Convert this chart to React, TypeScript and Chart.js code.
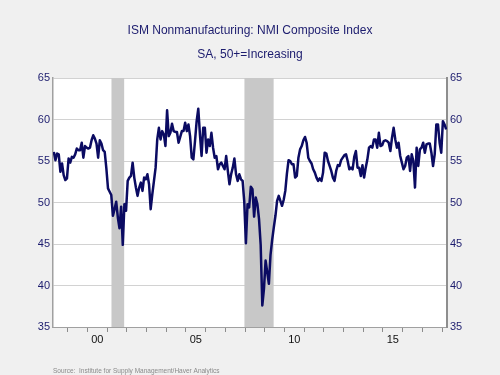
import React, { useEffect, useRef } from 'react';
import { Chart, registerables } from 'chart.js';

Chart.register(...registerables);

const TITLE = 'ISM Nonmanufacturing: NMI Composite Index';
const SUBTITLE = 'SA, 50+=Increasing';
const SOURCE = 'Source:  Institute for Supply Management/Haver Analytics';

// Monthly series, April 1998 .. March 2018
const START_YEAR = 1998;
const START_MONTH = 4;
const nmi: number[] = [
  // 1998 Apr-Dec
  56.1, 55.1, 55.9, 55.8, 53.7, 54.7, 53.3, 52.7, 52.9,
  // 1999
  55.3, 54.8, 55.5, 55.4, 55.8, 56.5, 56.3, 56.3, 57.2, 55.4, 56.8, 56.6,
  // 2000
  56.5, 56.6, 57.5, 58.1, 57.7, 57.1, 55.4, 57.5, 57.1, 56.3, 56.1, 54.1,
  // 2001
  51.7, 51.3, 50.9, 48.4, 49.2, 50.1, 48.2, 46.9, 49.5, 44.9, 49.8, 49.0,
  // 2002
  52.6, 53.0, 53.2, 54.8, 53.0, 51.8, 50.8, 51.8, 52.4, 51.4, 53.0, 52.8,
  // 2003
  53.4, 52.2, 49.2, 51.0, 52.6, 54.2, 57.6, 59.0, 57.6, 58.6, 58.2, 56.8,
  // 2004
  61.1, 58.0, 58.4, 59.5, 58.6, 58.5, 58.5, 57.2, 57.9, 58.6, 58.6, 59.6,
  // 2005
  58.6, 59.4, 58.0, 55.4, 55.2, 57.4, 59.8, 61.3, 58.2, 55.6, 59.0, 59.0,
  // 2006
  56.0, 57.6, 56.8, 58.4, 56.6, 55.4, 55.6, 54.0, 54.6, 54.8, 54.4, 54.0,
  // 2007
  55.6, 53.8, 52.2, 53.4, 54.2, 55.3, 53.4, 52.6, 53.4, 52.8, 52.6, 50.1,
  // 2008
  45.1, 49.8, 49.4, 51.9, 51.6, 48.3, 50.6, 49.8, 48.0, 44.9, 37.6, 39.6,
  // 2009
  43.0, 41.6, 40.2, 43.7, 45.5, 47.0, 48.4, 50.2, 50.8, 50.2, 49.6, 50.3,
  // 2010
  51.4, 53.5, 55.1, 55.0, 54.6, 54.6, 53.0, 53.2, 55.4, 56.4, 56.8, 57.5,
  // 2011
  57.9, 57.2, 55.4, 55.0, 54.7, 54.0, 53.6, 53.0, 52.6, 52.9, 52.6, 53.6,
  // 2012
  56.0, 55.9, 55.0, 54.4, 53.8, 53.0, 52.6, 53.8, 54.5, 54.4, 55.1, 55.4,
  // 2013
  55.7, 55.8, 55.0, 54.0, 54.2, 54.0, 55.5, 56.2, 54.2, 54.2, 53.2, 54.5,
  // 2014
  53.0, 54.2, 55.2, 56.6, 56.8, 56.6, 57.6, 57.6, 56.6, 58.4, 56.8, 56.9,
  // 2015
  57.4, 57.5, 57.4, 57.2, 56.2, 57.8, 59.0, 57.6, 56.6, 57.2, 55.6, 54.8,
  // 2016
  54.0, 54.4, 55.4, 55.6, 53.8, 55.8, 55.0, 51.8, 56.6, 54.4, 56.4, 56.6,
  // 2017
  57.2, 56.0, 57.0, 57.1, 57.1, 56.0, 54.4, 55.8, 59.4, 59.4, 57.2, 56.0,
  // 2018 Jan-Mar
  59.8, 59.4, 58.8,
];

// Recessions (first and last month)
const recessionStartYear = [2001, 2007];
const recessionStartMonth = [3, 12];
const recessionEndYear = [2001, 2009];
const recessionEndMonth = [11, 6];

// Axes
const X_MIN = 1998.25;
const X_MAX = 2018.25;
const yearTickMarks = [1999, 2000, 2001, 2002, 2003, 2004, 2005, 2006, 2007, 2008, 2009, 2010, 2011, 2012, 2013, 2014, 2015, 2016, 2017, 2018];
const labelYears = [2000, 2005, 2010, 2015];
const labelTexts = ['00', '05', '10', '15'];
const Y_MIN = 35;
const Y_MAX = 65;
const Y_STEP = 5;

const FONT = "'Liberation Sans', Arial, Helvetica, sans-serif";
const NAVY = '#1c1c6e';
const LINE = '#0b0b62';
const SHADE = '#c8c8c8';

const monthX = (year: number, month: number) => year + (month - 0.5) / 12;

const bgPlugin = {
  id: 'bgPlugin',
  beforeDraw(chart: any) {
    const { ctx, chartArea } = chart;
    ctx.save();
    ctx.fillStyle = '#f0f0f0';
    ctx.fillRect(0, 0, chart.width, chart.height);
    ctx.fillStyle = '#ffffff';
    ctx.fillRect(chartArea.left, chartArea.top, chartArea.right - chartArea.left, chartArea.bottom - chartArea.top);
    ctx.restore();
  },
};

export default function App() {
  const ref = useRef<HTMLCanvasElement | null>(null);

  useEffect(() => {
    if (!ref.current) return;
    const lineData = nmi.map((v, i) => ({
      x: monthX(START_YEAR, START_MONTH + i),
      y: v,
    }));
    const recessionSets = recessionStartYear.map((sy, i) => ({
      type: 'line' as const,
      label: 'recession' + i,
      data: [
        { x: monthX(sy, recessionStartMonth[i]), y: Y_MAX },
        { x: monthX(recessionEndYear[i], recessionEndMonth[i]), y: Y_MAX },
      ],
      borderColor: 'rgba(0,0,0,0)',
      borderWidth: 0,
      backgroundColor: SHADE,
      pointRadius: 0,
      fill: 'start',
      order: 2,
      yAxisID: 'y',
    }));

    const chart = new Chart(ref.current, {
      type: 'line',
      data: {
        datasets: [
          {
            label: 'NMI',
            data: lineData,
            borderColor: LINE,
            borderWidth: 2.5,
            pointRadius: 0,
            tension: 0,
            fill: false,
            order: 0,
            yAxisID: 'y',
            borderJoinStyle: 'round',
          } as any,
          ...recessionSets,
        ],
      },
      options: {
        animation: false,
        responsive: false,
        maintainAspectRatio: false,
        layout: { padding: 0 },
        plugins: {
          legend: { display: false },
          tooltip: { enabled: false },
          title: {
            display: true,
            text: TITLE,
            color: NAVY,
            font: { family: FONT, size: 12, weight: 'normal' },
            padding: { top: 23, bottom: 10 },
          },
          subtitle: {
            display: true,
            text: SUBTITLE,
            color: NAVY,
            font: { family: FONT, size: 12, weight: 'normal' },
            padding: { top: 0, bottom: 16.2 },
          },
        },
        scales: {
          x: {
            type: 'linear',
            min: X_MIN,
            max: X_MAX,
            afterBuildTicks: (scale: any) => {
              const vals = [...yearTickMarks, ...labelYears.map((y) => y + 0.5)].sort((a, b) => a - b);
              scale.ticks = vals.map((v) => ({ value: v }));
            },
            afterFit: (scale: any) => {
              scale.height = 48;
            },
            ticks: {
              autoSkip: false,
              maxRotation: 0,
              minRotation: 0,
              padding: 1,
              color: '#111111',
              font: { family: FONT, size: 11 },
              callback: (value: any) => {
                const i = labelYears.findIndex((y) => Math.abs(y + 0.5 - Number(value)) < 1e-6);
                return i >= 0 ? labelTexts[i] : '';
              },
            },
            grid: {
              drawOnChartArea: false,
              drawTicks: true,
              tickLength: 5,
              tickWidth: 1,
              tickColor: (ctx: any) =>
                ctx.tick && Number.isInteger(ctx.tick.value) ? '#8c8c8c' : 'rgba(0,0,0,0)',
            },
            border: { display: true, color: '#a0a0a0', width: 1 },
            title: {
              display: true,
              text: SOURCE,
              align: 'start',
              color: '#8a8a8a',
              font: { family: FONT, size: 6.5 },
              padding: { top: 21, bottom: 0 },
            },
          },
          y: {
            type: 'linear',
            position: 'left',
            min: Y_MIN,
            max: Y_MAX,
            afterFit: (scale: any) => {
              scale.width = 53;
            },
            ticks: {
              stepSize: Y_STEP,
              padding: 0,
              color: NAVY,
              font: { family: FONT, size: 11 },
            },
            grid: {
              color: '#d2d2d2',
              lineWidth: 1,
              tickLength: 3,
              tickColor: 'rgba(0,0,0,0)',
            },
            border: { display: true, color: '#a0a0a0', width: 1.5 },
          },
          y2: {
            type: 'linear',
            position: 'right',
            min: Y_MIN,
            max: Y_MAX,
            afterFit: (scale: any) => {
              scale.width = 53;
            },
            ticks: {
              stepSize: Y_STEP,
              padding: 0,
              color: NAVY,
              font: { family: FONT, size: 11 },
            },
            grid: {
              drawOnChartArea: false,
              tickLength: 3,
              tickColor: 'rgba(0,0,0,0)',
            },
            border: { display: true, color: '#8e8e8e', width: 2 },
          },
        },
      } as any,
      plugins: [bgPlugin],
    });

    return () => {
      chart.destroy();
    };
  }, []);

  return (
    <div
      style={{
        position: 'fixed',
        left: 0,
        top: 0,
        width: 500,
        height: 375,
        background: '#f0f0f0',
      }}
    >
      <canvas ref={ref} width={500} height={375} style={{ display: 'block', width: 500, height: 375 }} />
    </div>
  );
}
